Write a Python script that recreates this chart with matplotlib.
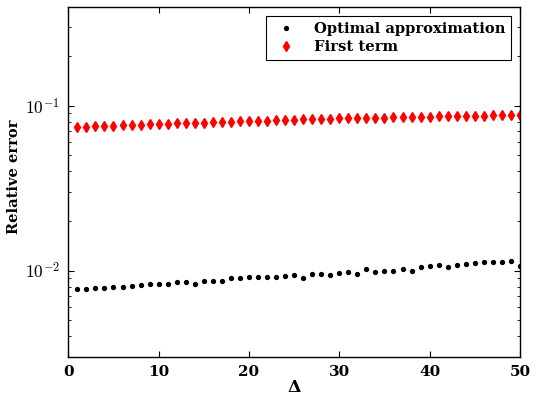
import matplotlib

matplotlib.use("Agg")
import matplotlib.pyplot as plt
from matplotlib.ticker import FuncFormatter
import numpy as np

# Delta values (x axis)
delta = list(range(1, 51))

# Relative error of the optimal approximation (black dots)
optimal_err = [
    0.00771, 0.00777, 0.00782, 0.00789, 0.00793, 0.00796, 0.00804, 0.00822,
    0.00827, 0.00827, 0.00830, 0.00854, 0.00854, 0.00834, 0.00866, 0.00870,
    0.00870, 0.00903, 0.00899, 0.00912, 0.00912, 0.00920, 0.00920, 0.00929,
    0.00942, 0.00903, 0.00955, 0.00955, 0.00946, 0.00964, 0.00986, 0.00951,
    0.01028, 0.00986, 0.01000, 0.01000, 0.01028, 0.01000, 0.01053, 0.01063,
    0.01078, 0.01053, 0.01083, 0.01098, 0.01114, 0.01125, 0.01125, 0.01134,
    0.01145, 0.01068,
]

# Relative error of the first term only (red diamonds)
first_term_err = [
    0.0746, 0.0749, 0.0753, 0.0756, 0.0760, 0.0763, 0.0767, 0.0770, 0.0774,
    0.0777, 0.0781, 0.0785, 0.0789, 0.0791, 0.0792, 0.0796, 0.0800, 0.0803,
    0.0807, 0.0811, 0.0812, 0.0815, 0.0819, 0.0822, 0.0826, 0.0828, 0.0831,
    0.0834, 0.0836, 0.0839, 0.0841, 0.0843, 0.0846, 0.0848, 0.0850, 0.0852,
    0.0854, 0.0857, 0.0859, 0.0861, 0.0863, 0.0865, 0.0867, 0.0869, 0.0871,
    0.0874, 0.0876, 0.0878, 0.0880, 0.0883,
]

xticks = [0, 10, 20, 30, 40, 50]

plt.rcParams["font.family"] = "DejaVu Serif"
plt.rcParams["font.weight"] = "bold"
plt.rcParams["axes.labelweight"] = "bold"
plt.rcParams["mathtext.fontset"] = "cm"
plt.rcParams["axes.unicode_minus"] = False


def log_label(val, pos):
    exp = int(round(np.log10(val)))
    return r"$10^{%d}$" % exp


fig = plt.figure(figsize=(5.36, 3.97), dpi=100)
fig.patch.set_facecolor("white")
ax = fig.add_axes([0.1275, 0.1015, 0.8425, 0.8815])

ax.plot(delta, optimal_err, linestyle="none", marker="o", color="black",
        markersize=2.8, label="Optimal approximation")
ax.plot(delta, first_term_err, linestyle="none", marker="d", color="red",
        markeredgecolor="red", markersize=4.8, label="First term")

ax.set_yscale("log")
ax.set_xlim(0, 50)
ax.set_ylim(0.003, 0.4)
ax.set_xticks(xticks)
ax.set_xticklabels([str(t) for t in xticks])
ax.yaxis.set_major_formatter(FuncFormatter(log_label))

ax.tick_params(which="both", direction="in", top=True, right=True, pad=6)
ax.tick_params(axis="x", labelsize=11)
ax.tick_params(axis="y", labelsize=12.5)
ax.tick_params(which="major", length=4, width=0.8)
ax.tick_params(which="minor", length=2, width=0.6)
for sp in ax.spines.values():
    sp.set_linewidth(1.0)

ax.set_xlabel("\u0394", fontsize=12.5, fontweight="bold")
ax.xaxis.set_label_coords(0.5, -0.064)
ax.set_ylabel("Relative error", fontsize=10.5, fontweight="bold")
ax.yaxis.set_label_coords(-0.104, 0.515)

leg = ax.legend(loc="upper right", numpoints=1,
                prop={"size": 10.6, "weight": "bold"},
                fancybox=False, framealpha=1, edgecolor="black",
                handletextpad=1.0, handlelength=1.8, borderaxespad=0.62,
                borderpad=0.4, labelspacing=0.3)
leg.get_frame().set_linewidth(0.8)

fig.savefig("out.png", dpi=100, facecolor="white")
